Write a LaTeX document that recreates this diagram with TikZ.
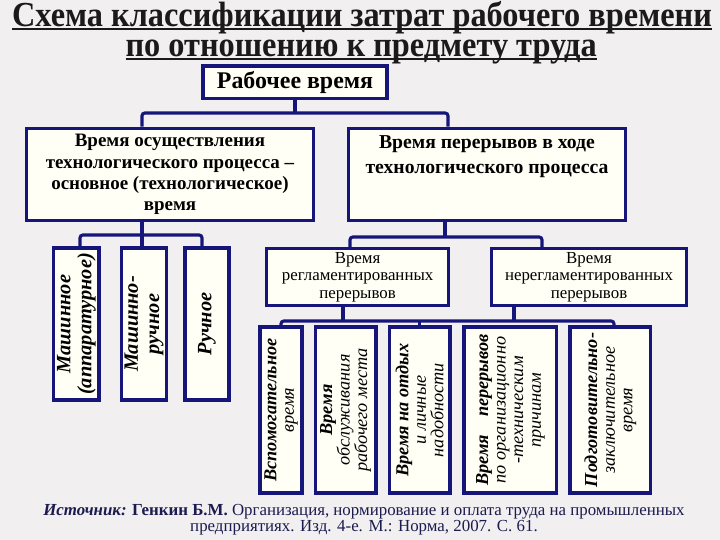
\documentclass[tikz,border=0pt]{standalone}
\usepackage{fontspec}
\setmainfont{Liberation Serif}
\newfontfamily\narrowserif[FakeStretch=0.92]{Liberation Serif}
\definecolor{Navy}{HTML}{16167A}
\definecolor{Paper}{HTML}{F1EFF0}
\definecolor{Cream}{HTML}{FFFFF6}
\definecolor{Ink}{HTML}{1A1A1A}
\definecolor{Src}{HTML}{1B1B4E}
\newcommand{\thickul}[1]{\setbox0\hbox{#1}\rlap{\copy0}\rule[-2.4pt]{\wd0}{1.4pt}}
\tikzset{box/.style={draw=Navy,fill=Cream,line width=2.4pt,align=center,inner sep=2pt,text=black},vbox/.style={box,rotate=90,font=\fontsize{13}{12.5}\selectfont\itshape},mbox/.style={box,rotate=90,font=\fontsize{14.5}{15}\selectfont\bfseries\itshape},link/.style={draw=Navy,line width=2.2pt,rounded corners=2pt},hd/.style={anchor=base,inner sep=0pt,font=\narrowserif\fontsize{25}{26}\selectfont\bfseries,text=Ink}}

\begin{document}
\begin{tikzpicture}
\useasboundingbox (0,0) rectangle (18,13.5);
\fill[Paper] (0,0) rectangle (18,13.5);
\node[hd] (t1) at (9.05,12.825) {\thickul{Схема классификации затрат рабочего времени}};
\node[hd] (t2) at (9.03,12.075) {\thickul{по отношению к предмету труда}};
\node[box,minimum width=4.6cm,minimum height=0.82cm,font=\fontsize{17}{19}\selectfont\bfseries] (rab) at (7.375,11.44) {Рабочее время};
\node[box,minimum width=7.17cm,minimum height=2.3cm,font=\fontsize{13.5}{15}\selectfont\bfseries] (a) at (4.25,9.14) {Время осуществления\\технологического процесса --\\основное (технологическое)\\время};
\node[box,minimum width=6.93cm,minimum height=2.3cm,label={[font=\fontsize{14}{18}\selectfont\bfseries,align=center,anchor=north,yshift=-1mm]north:{Время перерывов в ходе\\технологического процесса}}] (b) at (12.175,9.14) {};
\node[mbox,minimum width=3.8cm,minimum height=1.13cm] (m1) at (1.91,5.4) {Машинное\\(аппаратурное)};
\node[mbox,minimum width=3.8cm,minimum height=1.1cm] (m2) at (3.6,5.4) {Машинно-\\ручное};
\node[mbox,minimum width=3.8cm,minimum height=1.1cm] (m3) at (5.175,5.4) {Ручное};
\node[box,minimum width=4.55cm,minimum height=1.42cm,font=\fontsize{12}{12.5}\selectfont] (reg) at (8.94,6.575) {Время\\регламентированных\\перерывов};
\node[box,minimum width=4.88cm,minimum height=1.42cm,font=\fontsize{12}{12.5}\selectfont] (nreg) at (14.725,6.575) {Время\\нерегламентированных\\перерывов};
\node[vbox,minimum width=4.15cm,minimum height=1.05cm] (v1) at (7.025,3.25) {\textbf{Вспомогательное}\\время};
\node[vbox,minimum width=4.15cm,minimum height=1.52cm] (v2) at (8.64,3.25) {\textbf{Время}\\обслуживания\\рабочего места};
\node[vbox,minimum width=4.15cm,minimum height=1.52cm] (v3) at (10.49,3.25) {\textbf{Время на отдых}\\и личные\\надобности};
\node[vbox,minimum width=4.15cm,minimum height=2.32cm] (v4) at (12.76,3.25) {\textbf{Время\hspace{1em}перерывов}\\по организационно\\-техническим\\причинам};
\node[vbox,minimum width=4.15cm,minimum height=2.02cm] (v5) at (15.26,3.25) {\textbf{Подготовительно-}\\заключительное\\время};
\node[font=\fontsize{12}{11.5}\selectfont,text=Src,align=center] (src) at (9.1,0.5) {\textbf{\textit{Источник:}} \textbf{Генкин Б.М.} Организация, нормирование и оплата труда на промышленных\\предприятиях. Изд. 4-е. М.: Норма, 2007. С. 61.};
\coordinate (ja) at (3.55,10.675);
\coordinate (jb) at (11.2,10.675);
\draw[link] (rab.south) -- (rab.south |- ja);
\draw[link] (ja |- a.north) -- (ja) -- (jb) -- (jb |- b.north);
\coordinate (ka) at (3.55,7.625);
\coordinate (k1) at (2.0,7.625);
\coordinate (k3) at (5.05,7.625);
\draw[link] (ka |- a.south) -- (ka |- m2.east);
\draw[link] (k1 |- m1.east) -- (k1) -- (k3) -- (k3 |- m3.east);
\coordinate (kb) at (11.125,7.575);
\coordinate (kr) at (8.75,7.575);
\coordinate (kn) at (13.55,7.575);
\draw[link] (kb |- b.south) -- (kb);
\draw[link] (kr |- reg.north) -- (kr) -- (kn) -- (kn |- nreg.north);
\coordinate (lr) at (8.575,5.475);
\coordinate (ln) at (12.85,5.475);
\coordinate (l1) at (7.025,5.475);
\coordinate (l3) at (10.49,5.475);
\coordinate (l5) at (15.35,5.475);
\draw[link] (lr |- reg.south) -- (lr);
\draw[link] (ln |- nreg.south) -- (ln);
\draw[link] (l1 |- v1.east) -- (l1) -- (l5) -- (l5 |- v5.east);
\draw[link] (l3) -- (l3 |- v3.east);
\end{tikzpicture}
\end{document}
